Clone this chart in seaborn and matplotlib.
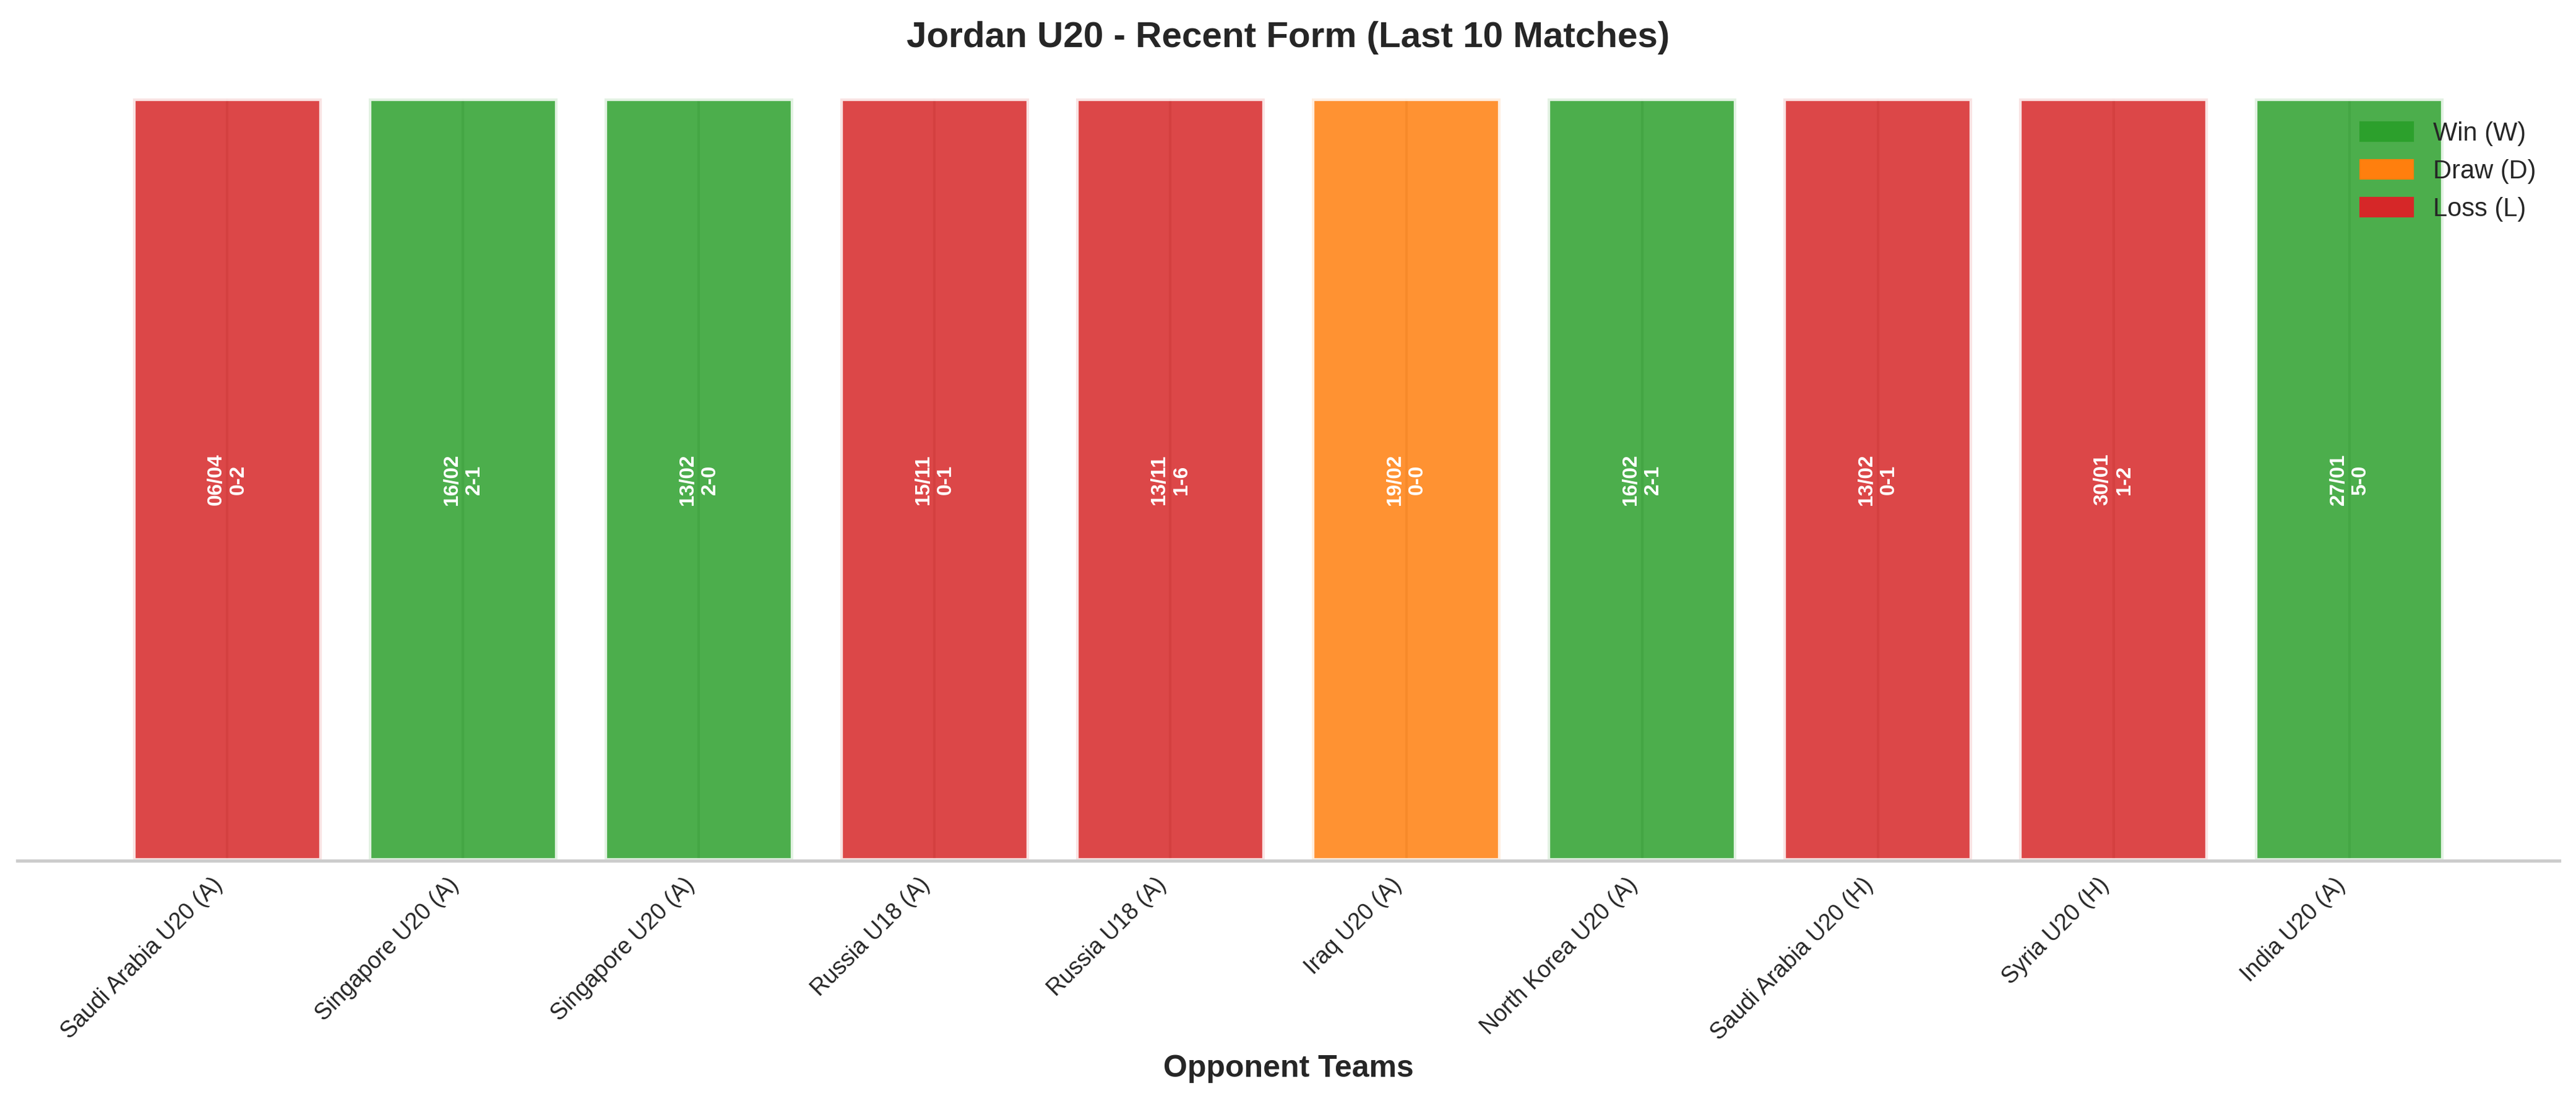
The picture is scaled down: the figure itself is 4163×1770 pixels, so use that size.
import matplotlib
matplotlib.use("Agg")
import matplotlib.pyplot as plt
import matplotlib.patches as mpatches
import seaborn as sns
import pandas as pd

# ---- data ----
opponents = ["Saudi Arabia U20 (A)", "Singapore U20 (A)", "Singapore U20 (A)",
             "Russia U18 (A)", "Russia U18 (A)", "Iraq U20 (A)",
             "North Korea U20 (A)", "Saudi Arabia U20 (H)", "Syria U20 (H)",
             "India U20 (A)"]
results = ["L", "W", "W", "L", "L", "D", "W", "L", "L", "W"]
dates = ["06/04", "16/02", "13/02", "15/11", "13/11", "19/02", "16/02",
         "13/02", "30/01", "27/01"]
scores = ["0-2", "2-1", "2-0", "0-1", "1-6", "0-0", "2-1", "0-1", "1-2", "5-0"]
heights = [1, 1, 1, 1, 1, 1, 1, 1, 1, 1]

result_colors = {"W": "#2ca02c", "D": "#ff7f0e", "L": "#d62728"}
legend_labels = {"W": "Win (W)", "D": "Draw (D)", "L": "Loss (L)"}

df = pd.DataFrame({"match": list(range(len(opponents))),
                   "height": heights, "result": results})

sns.set_theme(style="whitegrid")
plt.rcParams["font.family"] = ["Liberation Sans", "DejaVu Sans"]

fig = plt.figure(figsize=(4163 / 300, 1770 / 300), dpi=300)
ax = fig.add_axes([28 / 4163, 1 - 1390 / 1770, (4136 - 28) / 4163, (1390 - 159) / 1770])

sns.barplot(data=df, x="match", y="height", hue="result", dodge=False,
            palette=result_colors, saturation=1, alpha=0.85, edgecolor="white",
            linewidth=2, width=0.8, legend=False, ax=ax)

n = len(opponents)
ax.set_xlim(-0.4 - 0.049 * 10, n - 1 + 0.4 + 0.049 * 10)
ax.set_ylim(0, 1)
ax.xaxis.grid(True)
ax.yaxis.grid(False)
ax.set_axisbelow(True)
ax.set_yticks([])
ax.set_ylabel("")

ax.set_xticks(range(n))
ax.set_xticklabels(opponents, rotation=45, ha="right", fontsize=9)
ax.tick_params(axis="x", length=0, pad=5)

for i in range(n):
    ax.text(i, heights[i] / 2, f"{dates[i]}\n{scores[i]}", rotation=90,
            ha="center", va="center", color="white", fontsize=8,
            fontweight="bold")

ax.set_xlabel("Opponent Teams", fontsize=12, fontweight="bold", labelpad=4)
ax.set_title("Jordan U20 - Recent Form (Last 10 Matches)", fontsize=14,
             fontweight="bold", pad=20)

for side in ["left", "right", "top"]:
    ax.spines[side].set_visible(False)

handles = [mpatches.Patch(color=result_colors[k], label=legend_labels[k])
           for k in ["W", "D", "L"]]
ax.legend(handles=handles, loc="upper right", frameon=False, fontsize=10)

fig.savefig("out.png", dpi=300)
